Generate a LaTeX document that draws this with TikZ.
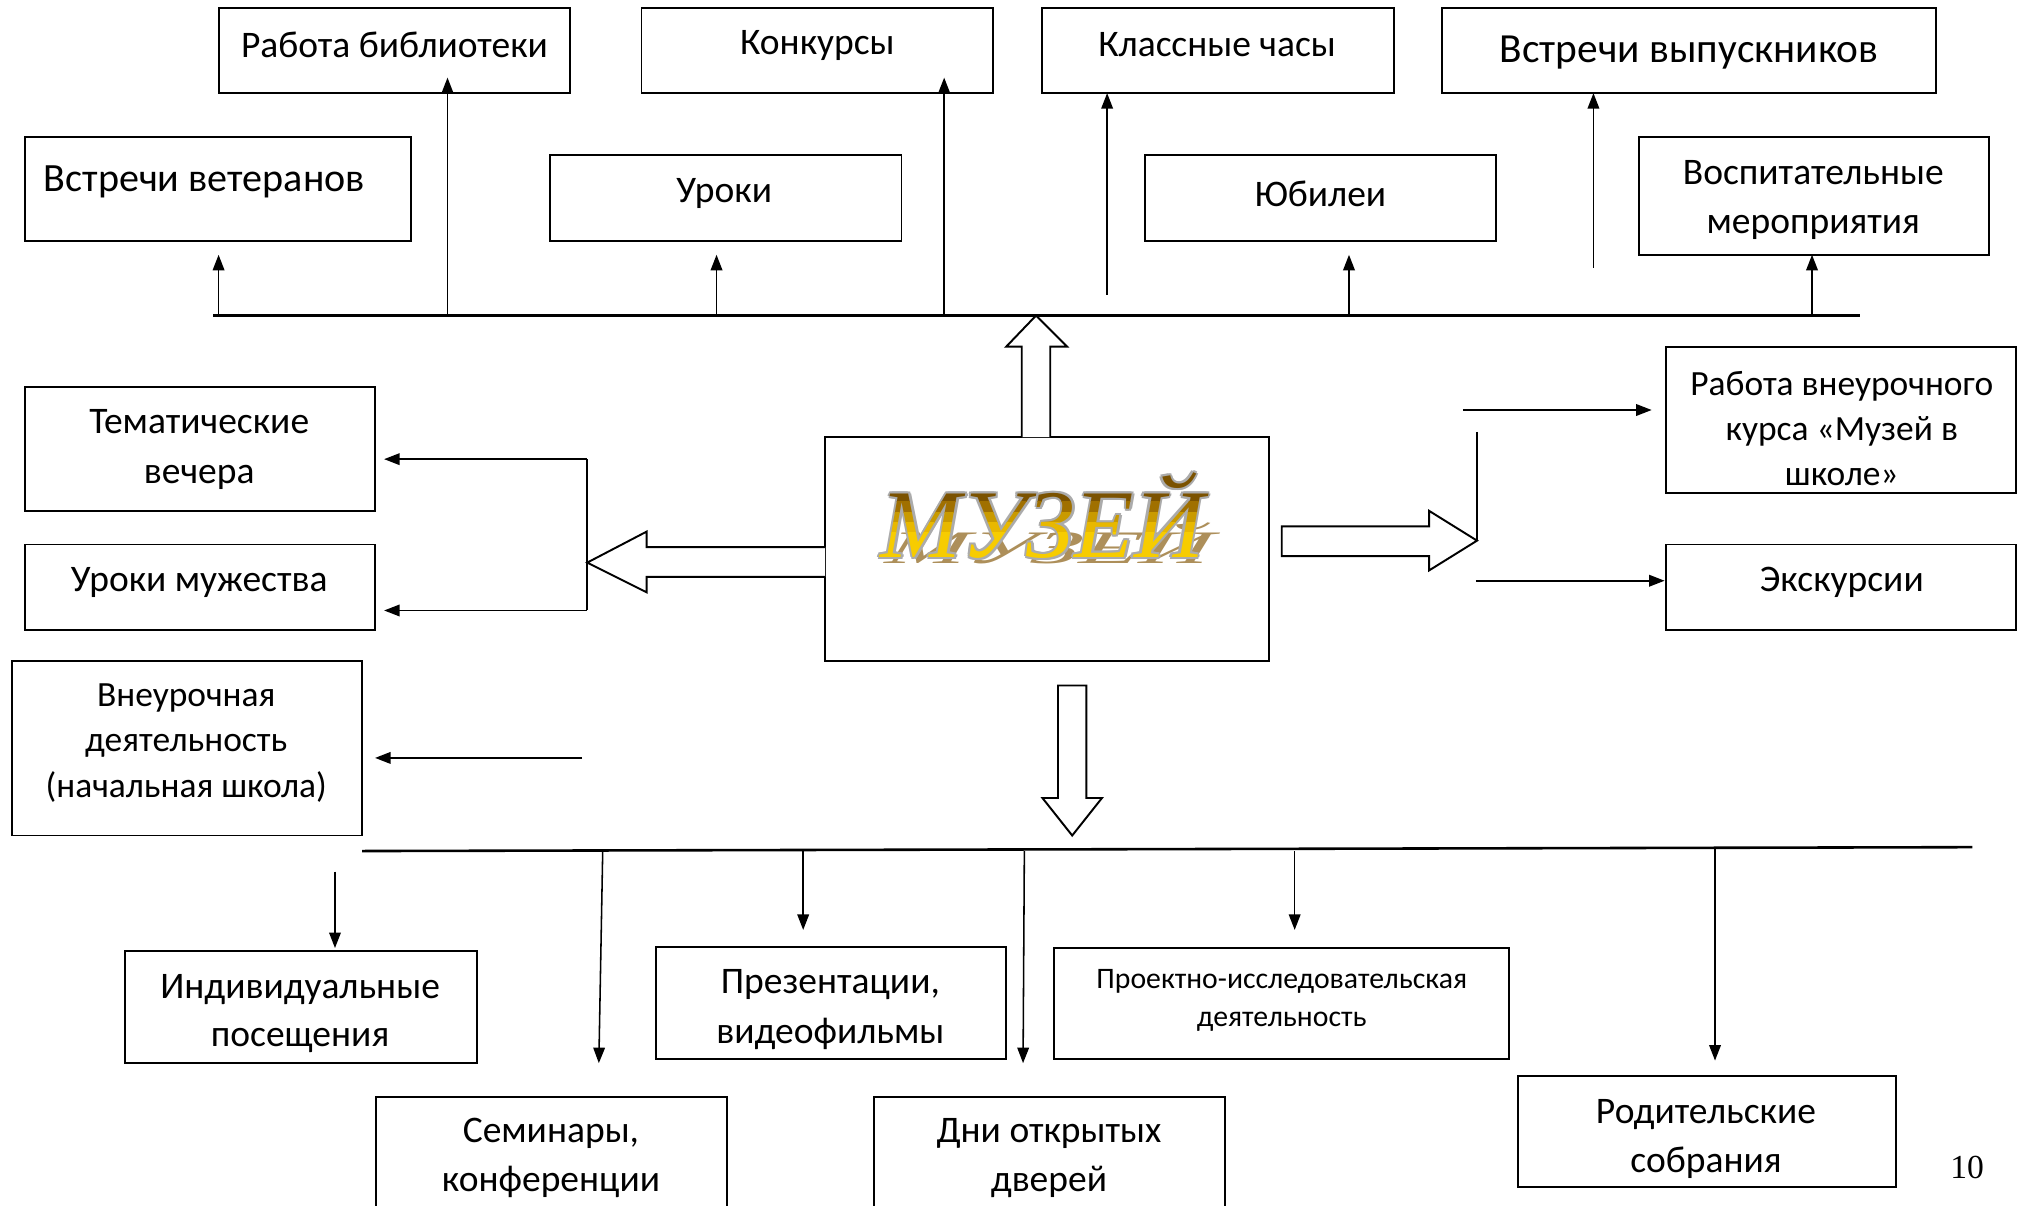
\documentclass[tikz,border=0pt]{standalone}
\usepackage{fontspec}
\setmainfont{Carlito}
\newfontfamily\serifnum{Liberation Serif}
\newfontfamily\wafont{Liberation Serif}
\usetikzlibrary{arrows.meta,fit}
\definecolor{shtan}{HTML}{AD8F5A}
\definecolor{outgrey}{HTML}{ABABAB}
\definecolor{gA}{HTML}{7B5200}
\definecolor{gB}{HTML}{A07000}
\definecolor{gC}{HTML}{C99A00}
\definecolor{gD}{HTML}{E8B800}
\definecolor{gE}{HTML}{F7CC00}
\newcommand\muz{\wafont\itshape\fontsize{37.5}{38}\selectfont МУЗЕЙ}
\newcommand\boxat[5]{\node[box, fit={(#2,#3)(#4,#5)}] (#1) {};}
\tikzset{
 box/.style={draw, line width=0.75pt, inner sep=0pt},
 lbl/.style={align=center, inner sep=0pt, yshift=-1.25pt, font=\fontsize{14.5}{19}\selectfont},
 con/.style={line width=0.6pt},
 arr/.style={con, -{Triangle[length=6pt,width=4.5pt]}},
 bus/.style={line width=1pt},
 hollow/.style={draw, line width=0.75pt, fill=white, line join=miter},
}
\begin{document}
\begin{tikzpicture}[x=0.5pt,y=-0.5pt]
\clip (0,0) rectangle (1568,932);
\fill[white] (0,0) rectangle (1568,932);

% ---------- boxes ----------
\boxat{bib}{169}{6}{441}{72}
\boxat{kon}{496}{6}{768}{72}
\boxat{klas}{806}{6}{1078}{72}
\boxat{vyp}{1115}{6}{1497}{72}
\boxat{vet}{19}{106}{318}{186}
\boxat{uro}{425}{120}{697}{186}
\boxat{jub}{885}{120}{1157}{186}
\boxat{vos}{1267}{106}{1538}{197}
\boxat{tem}{19}{299}{290}{395}
\boxat{mug}{19}{421}{290}{487}
\boxat{vne}{9}{511}{280}{646}
\boxat{kurs}{1288}{268}{1559}{381}
\boxat{eks}{1288}{421}{1559}{487}
\boxat{ind}{97}{735}{369}{822}
\boxat{pre}{507}{732}{778}{819}
\boxat{pro}{815}{733}{1167}{819}
\boxat{sem}{291}{848}{562}{950}
\boxat{dni}{676}{848}{947}{950}
\boxat{rod}{1174}{832}{1466}{918}
\boxat{mus}{638}{338}{981}{511}

% ---------- labels ----------
\node[lbl] (tbib) at (305,32) {Работа библиотеки};
\node[lbl] (tkon) at (632,33) {Конкурсы};
\node[lbl] (tklas) at (941,32) {Классные часы};
\node[lbl,font=\fontsize{16}{19}\selectfont] (tvyp) at (1306,38) {Встречи выпускников};
\node[lbl,font=\fontsize{15.5}{19}\selectfont] (tvet) at (158,138) {Встречи ветеранов};
\node[lbl] (turo) at (560,147) {Уроки};
\node[lbl] (tjub) at (1021,147) {Юбилеи};
\node[lbl] (tvos) at (1402,152) {Воспитательные\\мероприятия};
\node[lbl] (ttem) at (154,345) {Тематические\\вечера};
\node[lbl] (tmug) at (154,448) {Уроки мужества};
\node[lbl,font=\fontsize{13.7}{17.75}\selectfont] (tvne) at (144,572) {Внеурочная\\деятельность\\(начальная школа)};
\node[lbl,font=\fontsize{13.7}{17.5}\selectfont] (tkurs) at (1424,329) {Работа внеурочного\\курса «Музей в\\школе»};
\node[lbl] (teks) at (1424,448) {Экскурсии};
\node[lbl,font=\fontsize{14.5}{18.5}\selectfont] (tind) at (232,781) {Индивидуальные\\посещения};
\node[lbl] (tpre) at (642,778) {Презентации,\\видеофильмы};
\node[lbl,font=\fontsize{11.5}{15}\selectfont] (tpro) at (991,771) {Проектно-исследовательская\\деятельность};
\node[lbl] (tsem) at (426,893) {Семинары,\\конференции};
\node[lbl] (tdni) at (811,893) {Дни открытых\\дверей};
\node[lbl] (trod) at (1319,878) {Родительские\\собрания};
\node[font=\serifnum\fontsize{13}{13}\selectfont, inner sep=0pt] (pg) at (1521,903) {10};

% ---------- museum title ----------
\node[anchor=base, text=shtan, yscale=0.48, xslant=0.12, transform shape] (shad) at (809,436) {\muz};
\foreach \dx/\dy [count=\i] in {1.8/0,-1.8/0,0/1.8,0/-1.8,1.3/1.3,-1.3/1.3,1.3/-1.3,-1.3/-1.3}{
  \node[anchor=base, text=outgrey] (out\i) at (806+\dx,431+\dy) {\muz};
}
\foreach \ya/\yb/\c [count=\i] in {340/388/gA,388/396/gB,396/404/gC,404/412/gD,412/445/gE}{
  \begin{scope}
    \clip (600,\ya) rectangle (1000,\yb);
    \node[anchor=base, text=\c] (gold\i) at (806,431) {\muz};
  \end{scope}
}

% ---------- bus lines ----------
\coordinate (topL) at (165,244);
\coordinate (topR) at (1438,244);
\draw[bus] (topL) -- (topR);
\coordinate (botL) at (280,658);
\coordinate (botR) at (1525,655);
\draw[bus] (botL) -- (botR);

% ---------- top arrows ----------
\foreach \x/\ya/\yb [count=\i] in {169/244/197,346/244/60,554/244/197,730/244/60,856/228/72,1043/244/197,1232/207/72,1401/244/197}{
  \coordinate (us\i) at (\x,\ya);
  \coordinate (ue\i) at (\x,\yb);
  \draw[arr] (us\i) -- (ue\i);
}

% ---------- bottom arrows ----------
\foreach \xa/\ya/\xb/\yb [count=\i] in {259/674/259/733,466/658/463/822,621/658/621/719,792/658/791/822,1001/658/1001/719,1326/656/1326/820}{
  \coordinate (ds\i) at (\xa,\ya);
  \coordinate (de\i) at (\xb,\yb);
  \draw[arr] (ds\i) -- (de\i);
}

% ---------- left side ----------
\coordinate (lT) at (454,355);
\coordinate (lB) at (454,472);
\draw[con] (lT) -- (lB);
\coordinate (lTe) at (297,355);
\coordinate (lBe) at (297,472);
\draw[arr] (lT) -- (lTe);
\draw[arr] (lB) -- (lBe);
\coordinate (lV) at (450,586);
\coordinate (lVe) at (290,586);
\draw[arr] (lV) -- (lVe);

% ---------- right side ----------
\coordinate (rT) at (1142,334);
\coordinate (rB) at (1142,418);
\draw[con] (rT) -- (rB);
\coordinate (rK) at (1131,317);
\coordinate (rKe) at (1277,317);
\draw[arr] (rK) -- (rKe);
\coordinate (rE) at (1141,449);
\coordinate (rEe) at (1287,449);
\draw[arr] (rE) -- (rEe);

% ---------- hollow block arrows ----------
\draw[hollow] (790,338) -- (790,268) -- (778,268) -- (801,244) -- (825,268) -- (812,268) -- (812,338);
\draw[hollow] (638,423) -- (500,423) -- (500,411) -- (454,435) -- (500,458) -- (500,446) -- (638,446);
\draw[hollow] (991,430) -- (991,407) -- (1105,407) -- (1105,395) -- (1142,418) -- (1105,441) -- (1105,430) -- cycle;
\draw[hollow] (818,530) -- (840,530) -- (840,617) -- (852,617) -- (829,646) -- (806,617) -- (818,617) -- cycle;
\end{tikzpicture}
\end{document}
